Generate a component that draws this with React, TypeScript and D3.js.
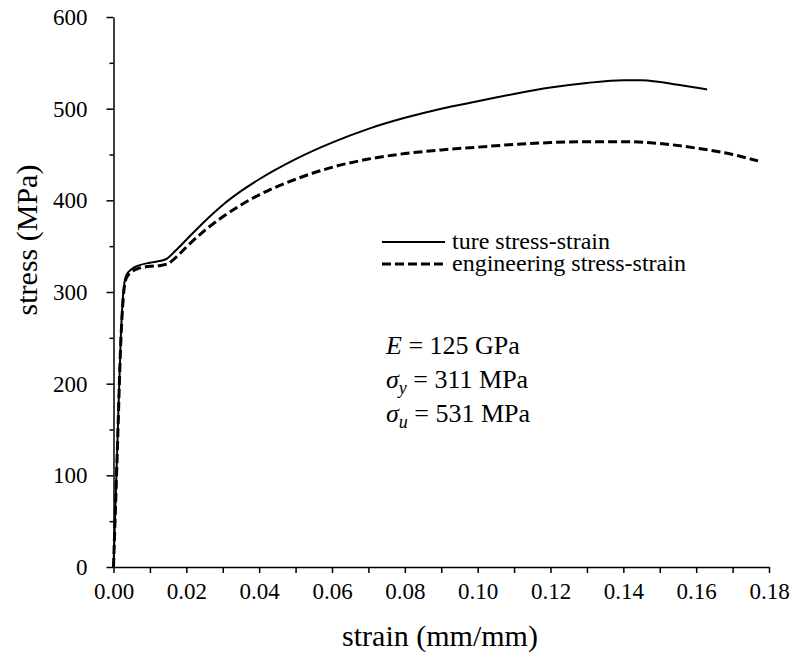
import React, { useEffect, useRef } from "react";
import * as d3 from "d3";

// true stress-strain curve (strain mm/mm, stress MPa)
const trueStrain = [0, 0.001, 0.002, 0.0027, 0.0035, 0.005, 0.007, 0.01, 0.013, 0.0145, 0.017, 0.02, 0.025, 0.03, 0.035, 0.04, 0.05, 0.06, 0.07, 0.08, 0.09, 0.1, 0.11, 0.12, 0.13, 0.14, 0.145, 0.15, 0.155, 0.163];
const trueStress = [0, 125, 250, 300, 318, 325, 329, 332, 334, 336, 345, 357, 377, 395, 410, 423, 445, 463, 478, 490, 500, 508, 516, 523, 528, 531, 531, 529, 526, 521];

// engineering stress-strain curve
const engStrain = [0, 0.001, 0.002, 0.0027, 0.0035, 0.005, 0.007, 0.01, 0.013, 0.015, 0.018, 0.02, 0.025, 0.03, 0.035, 0.04, 0.05, 0.06, 0.07, 0.08, 0.09, 0.1, 0.11, 0.12, 0.13, 0.14, 0.15, 0.16, 0.17, 0.177];
const engStress = [0, 120, 245, 295, 315, 322, 326, 328, 329, 331, 341, 349, 367, 382, 395, 406, 423, 436, 445, 451, 455, 458, 461, 463, 464, 464, 462, 457, 450, 443];

const xTicks = [0, 0.02, 0.04, 0.06, 0.08, 0.1, 0.12, 0.14, 0.16, 0.18];
const yTicks = [0, 100, 200, 300, 400, 500, 600];
const legendLabels = ["ture stress-strain", "engineering stress-strain"];

const FONT = "'Liberation Serif', 'DejaVu Serif', serif";

export default function App() {
  const ref = useRef<SVGSVGElement>(null);

  useEffect(() => {
    const svg = d3.select(ref.current);
    svg.selectAll("*").remove();

    const x = d3.scaleLinear().domain([0, 0.18]).range([113.5, 769]);
    const y = d3.scaleLinear().domain([0, 600]).range([567, 17]);

    // minor ticks
    svg
      .append("g")
      .attr("transform", "translate(113.5,0)")
      .call(d3.axisLeft(y).tickValues(d3.range(50, 600, 100)).tickSize(4).tickFormat(() => ""))
      .call((g) => g.select(".domain").remove())
      .selectAll("line")
      .attr("stroke-width", 1.5);

    svg
      .append("g")
      .attr("transform", "translate(0,567)")
      .call(d3.axisBottom(x).tickValues(d3.range(0.01, 0.18, 0.02)).tickSize(6).tickFormat(() => ""))
      .call((g) => g.select(".domain").remove())
      .selectAll("line")
      .attr("stroke-width", 1.5);

    const yAxis = svg
      .append("g")
      .attr("transform", "translate(113.5,0)")
      .call(d3.axisLeft(y).tickValues(yTicks).tickSize(7).tickSizeOuter(0).tickPadding(19));
    yAxis.attr("font-family", null).attr("font-size", null);
    yAxis.select(".domain").attr("stroke-width", 1.5);
    yAxis.selectAll("line").attr("stroke-width", 1.5);
    yAxis.selectAll("text").attr("fill", "#000").style("font-size", "23px");

    const xAxis = svg
      .append("g")
      .attr("transform", "translate(0,567)")
      .call(d3.axisBottom(x).tickValues(xTicks).tickSize(6).tickSizeOuter(0).tickPadding(10).tickFormat(d3.format(".2f")));
    xAxis.attr("font-family", null).attr("font-size", null);
    xAxis.select(".domain").attr("stroke-width", 1.5);
    xAxis.selectAll("line").attr("stroke-width", 1.5);
    xAxis.selectAll("text").attr("fill", "#000").style("font-size", "23px");

    // axis titles
    svg
      .append("text")
      .attr("x", 440)
      .attr("y", 646)
      .attr("text-anchor", "middle")
      .style("font-size", "30px")
      .text("strain (mm/mm)");

    svg
      .append("text")
      .attr("transform", "translate(37,240) rotate(-90)")
      .attr("text-anchor", "middle")
      .style("font-size", "30px")
      .text("stress (MPa)");

    const line = d3
      .line<[number, number]>()
      .x((d) => x(d[0]))
      .y((d) => y(d[1]))
      .curve(d3.curveMonotoneX);

    const trueData = trueStrain.map((s, i) => [s, trueStress[i]] as [number, number]);
    const engData = engStrain.map((s, i) => [s, engStress[i]] as [number, number]);

    svg
      .append("path")
      .attr("d", line(trueData))
      .attr("fill", "none")
      .attr("stroke", "#000")
      .attr("stroke-width", 2);

    svg
      .append("path")
      .attr("d", line(engData))
      .attr("fill", "none")
      .attr("stroke", "#000")
      .attr("stroke-width", 3)
      .attr("stroke-dasharray", "9,4");

    // legend
    const legend = svg.append("g");
    legendLabels.forEach((label, i) => {
      const ly = 242 + i * 22;
      legend
        .append("line")
        .attr("x1", 382)
        .attr("x2", 445)
        .attr("y1", ly)
        .attr("y2", ly)
        .attr("stroke", "#000")
        .attr("stroke-width", i === 0 ? 2 : 3)
        .attr("stroke-dasharray", i === 0 ? null : "9,4");
      legend
        .append("text")
        .attr("x", 452)
        .attr("y", ly + 7)
        .style("font-size", "24px")
        .text(label);
    });

    // material properties
    const notes = [
      { sym: "E", sub: "", val: " = 125 GPa" },
      { sym: "σ", sub: "y", val: " = 311 MPa" },
      { sym: "σ", sub: "u", val: " = 531 MPa" },
    ];
    notes.forEach((n, i) => {
      const t = svg
        .append("text")
        .attr("x", 386)
        .attr("y", 354 + i * 34)
        .style("font-size", "26px");
      t.append("tspan").style("font-style", "italic").text(n.sym);
      if (n.sub) {
        t.append("tspan").attr("dy", 6).style("font-style", "italic").style("font-size", "18px").text(n.sub);
        t.append("tspan").attr("dy", -6).text(n.val);
      } else {
        t.append("tspan").text(n.val);
      }
    });
  }, []);

  return (
    <svg
      ref={ref}
      width={790}
      height={666}
      style={{ display: "block", position: "absolute", left: 0, top: 0, fontFamily: FONT }}
    />
  );
}
